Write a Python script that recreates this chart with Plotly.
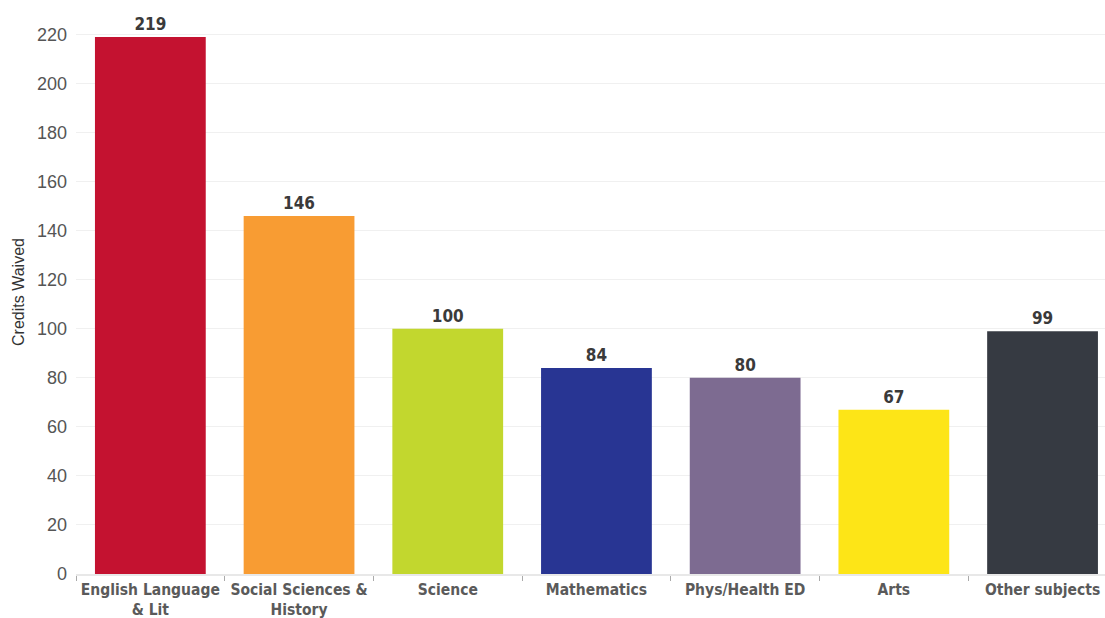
import plotly.graph_objects as go

categories = ["English Language<br>& Lit", "Social Sciences &<br>History", "Science",
              "Mathematics", "Phys/Health ED", "Arts", "Other subjects"]
values = [219, 146, 100, 84, 80, 67, 99]
colors = ["#c41230", "#f89c33", "#c2d72e", "#283593", "#7d6b91", "#fde517", "#363a42"]
y_ticks = [0, 20, 40, 60, 80, 100, 120, 140, 160, 180, 200, 220]

cond = "DejaVu Sans Condensed, Liberation Sans Narrow, sans-serif"

fig = go.Figure(go.Bar(
    x=categories, y=values,
    marker=dict(color=colors, line=dict(width=0)),
    texttemplate="<b>%{y}</b>", textposition="outside", cliponaxis=False,
    textfont=dict(family=cond, size=17, color="#3a3a3a"),
))

fig.update_layout(
    width=1105, height=618,
    margin=dict(l=76, r=0, t=10, b=44),
    paper_bgcolor="white", plot_bgcolor="white",
    bargap=0.255,
    showlegend=False,
    xaxis=dict(
        range=[-0.5, 6.42], automargin=False, tickangle=0,
        showgrid=False, showline=True, linecolor="#e8e8e8", linewidth=2,
        ticks="outside", tickson="boundaries", ticklen=5, tickcolor="#aaaaaa",
        tickfont=dict(family=cond, size=15.5, color="#5a5a5a"),
        tickprefix="<b>", ticksuffix="</b>",
    ),
    yaxis=dict(
        range=[0, 230], tickvals=y_ticks, automargin=False,
        showgrid=True, gridcolor="#f0f0f0", gridwidth=1,
        zeroline=False, showline=False,
        ticks="", ticklabelstandoff=8,
        tickfont=dict(family="Liberation Sans, Arial, sans-serif", size=18, color="#555555"),
        title=dict(text="Credits Waived", font=dict(family="Liberation Sans, Arial, sans-serif", size=16, color="#333333"), standoff=8),
    ),
)

fig.write_html("out.html")
